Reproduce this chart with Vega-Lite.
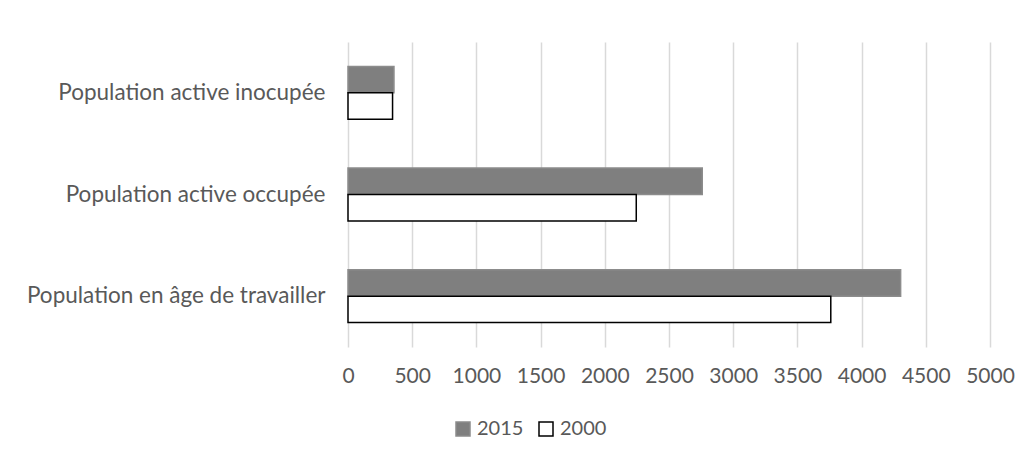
{
  "$schema": "https://vega.github.io/schema/vega-lite/v6.json",
  "autosize": {"type": "none"},
  "padding": {"left": 348, "top": 42, "right": 41, "bottom": 112},
  "width": 642,
  "height": 305,
  "background": "white",
  "data": {
    "values": [
      {"categorie": "Population active inocupée", "annee": "2015", "valeur": 358},
      {"categorie": "Population active inocupée", "annee": "2000", "valeur": 347},
      {"categorie": "Population active occupée", "annee": "2015", "valeur": 2759},
      {"categorie": "Population active occupée", "annee": "2000", "valeur": 2245},
      {"categorie": "Population en âge de travailler", "annee": "2015", "valeur": 4304},
      {"categorie": "Population en âge de travailler", "annee": "2000", "valeur": 3760}
    ]
  },
  "mark": {"type": "bar", "strokeWidth": 1.5},
  "encoding": {
    "y": {
      "field": "categorie",
      "type": "nominal",
      "sort": ["Population active inocupée", "Population active occupée", "Population en âge de travailler"],
      "scale": {"paddingInner": 0.48, "paddingOuter": 0.24},
      "axis": {
        "title": null,
        "domain": false,
        "ticks": false,
        "labelPadding": 23,
        "labelFont": "Lato",
        "labelFontSize": 22.5,
        "labelColor": "#595959",
        "labelLimit": 400
      }
    },
    "yOffset": {
      "field": "annee",
      "type": "nominal",
      "sort": ["2015", "2000"],
      "scale": {"paddingInner": 0, "paddingOuter": 0}
    },
    "x": {
      "field": "valeur",
      "type": "quantitative",
      "scale": {"domain": [0, 5000], "nice": false},
      "axis": {
        "title": null,
        "values": [0, 500, 1000, 1500, 2000, 2500, 3000, 3500, 4000, 4500, 5000],
        "format": "d",
        "domain": false,
        "ticks": false,
        "grid": true,
        "gridColor": "#d9d9d9",
        "gridWidth": 1.5,
        "labelPadding": 18,
        "labelFont": "Lato",
        "labelFontSize": 21,
        "labelColor": "#595959",
        "labelFlush": false
      }
    },
    "color": {
      "field": "annee",
      "type": "nominal",
      "sort": ["2015", "2000"],
      "scale": {"domain": ["2015", "2000"], "range": ["#7f7f7f", "#ffffff"]},
      "legend": {
        "title": null,
        "orient": "none",
        "direction": "horizontal",
        "legendX": 105,
        "legendY": 377,
        "symbolType": "square",
        "symbolSize": 196,
        "symbolStrokeWidth": 1.5,
        "labelFont": "Lato",
        "labelFontSize": 20,
        "labelColor": "#595959",
        "labelOffset": 4,
        "columnPadding": 12
      }
    },
    "stroke": {
      "field": "annee",
      "type": "nominal",
      "sort": ["2015", "2000"],
      "scale": {"domain": ["2015", "2000"], "range": ["#8c8c8c", "#000000"]},
      "legend": null
    }
  },
  "config": {"view": {"stroke": null}}
}
